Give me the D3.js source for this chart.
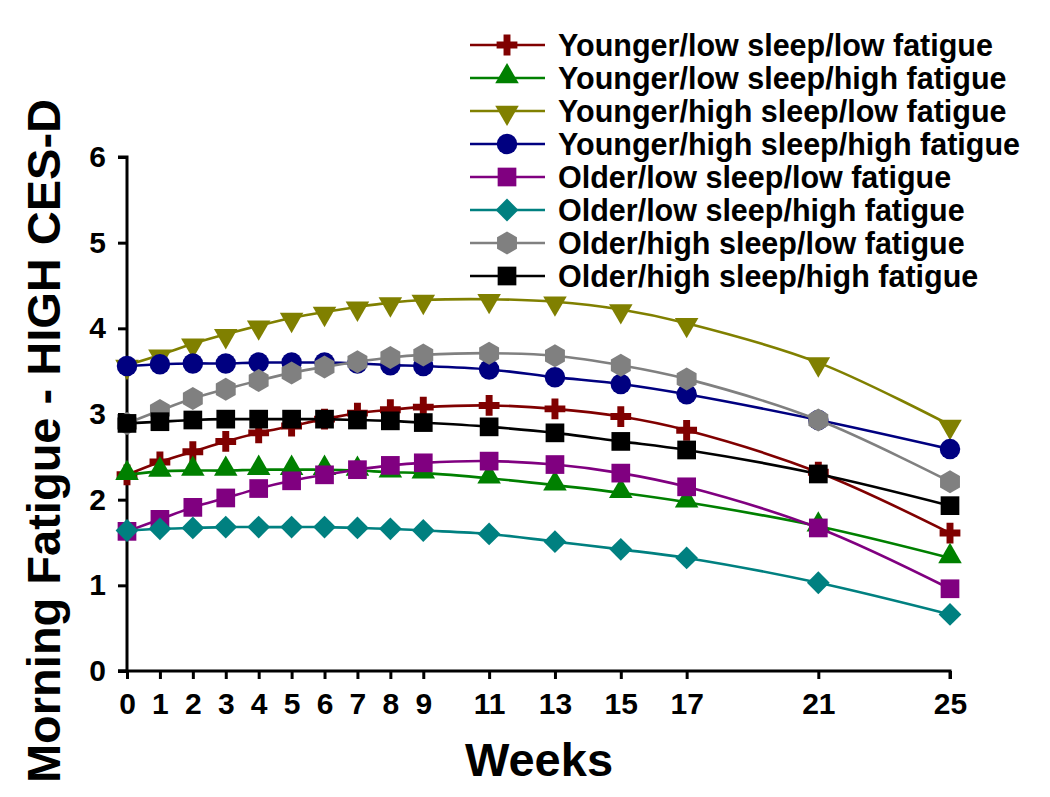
<!DOCTYPE html>
<html>
<head>
<meta charset="utf-8">
<script src="https://cdn.jsdelivr.net/npm/d3@7"></script>
<style>
  html, body { margin: 0; padding: 0; background: #fff; }
  svg { display: block; font-family: "Liberation Sans", Arial, sans-serif; font-weight: bold; }
</style>
</head>
<body>
<svg id="chart" width="1050" height="797"></svg>
<script>
// ---- data ----
const weeks = [0, 1, 2, 3, 4, 5, 6, 7, 8, 9, 11, 13, 15, 17, 21, 25];
const xTickLabels = ["0","1","2","3","4","5","6","7","8","9","11","13","15","17","21","25"];
const yTicks = [0, 1, 2, 3, 4, 5, 6];

const seriesNames = [
  "Younger/low sleep/low fatigue",
  "Younger/low sleep/high fatigue",
  "Younger/high sleep/low fatigue",
  "Younger/high sleep/high fatigue",
  "Older/low sleep/low fatigue",
  "Older/low sleep/high fatigue",
  "Older/high sleep/low fatigue",
  "Older/high sleep/high fatigue"
];
const youngLowSleepLowFat   = [2.29, 2.44, 2.56, 2.68, 2.78, 2.86, 2.94, 3.01, 3.05, 3.08, 3.10, 3.06, 2.97, 2.81, 2.32, 1.61];
const youngLowSleepHighFat  = [2.29, 2.33, 2.34, 2.34, 2.35, 2.35, 2.35, 2.34, 2.32, 2.31, 2.25, 2.17, 2.08, 1.97, 1.69, 1.32];
const youngHighSleepLowFat  = [3.57, 3.69, 3.82, 3.93, 4.03, 4.12, 4.19, 4.25, 4.30, 4.33, 4.34, 4.31, 4.22, 4.06, 3.60, 2.87];
const youngHighSleepHighFat = [3.56, 3.58, 3.59, 3.59, 3.60, 3.60, 3.60, 3.59, 3.57, 3.56, 3.52, 3.43, 3.35, 3.23, 2.93, 2.59];
const oldLowSleepLowFat     = [1.63, 1.77, 1.91, 2.02, 2.13, 2.22, 2.29, 2.35, 2.40, 2.43, 2.45, 2.41, 2.31, 2.15, 1.67, 0.96];
const oldLowSleepHighFat    = [1.64, 1.66, 1.67, 1.68, 1.68, 1.68, 1.68, 1.67, 1.66, 1.64, 1.60, 1.51, 1.42, 1.32, 1.03, 0.66];
const oldHighSleepLowFat    = [2.89, 3.04, 3.18, 3.29, 3.39, 3.48, 3.55, 3.61, 3.66, 3.69, 3.71, 3.68, 3.57, 3.41, 2.93, 2.21];
const oldHighSleepHighFat   = [2.89, 2.91, 2.93, 2.94, 2.94, 2.94, 2.94, 2.93, 2.92, 2.90, 2.85, 2.78, 2.68, 2.58, 2.30, 1.93];

const seriesValues = [youngLowSleepLowFat, youngLowSleepHighFat, youngHighSleepLowFat, youngHighSleepHighFat,
                      oldLowSleepLowFat, oldLowSleepHighFat, oldHighSleepLowFat, oldHighSleepHighFat];
const seriesColors = ["#800000", "#008000", "#808000", "#000080", "#800080", "#008080", "#808080", "#000000"];
const seriesMarkers = ["cross", "triUp", "triDown", "circle", "square", "diamond", "hexagon", "square"];

// ---- layout ----
const svg = d3.select("#chart");
const x = d3.scaleLinear().domain([0, 25]).range([127, 950]);
const y = d3.scaleLinear().domain([0, 6]).range([671, 157]);

function markerPath(type) {
  switch (type) {
    case "cross":   return d3.symbol(d3.symbolCross, 240)();
    case "triUp":   return d3.symbol(d3.symbolTriangle, 240)();
    case "triDown": return d3.symbol(d3.symbolTriangle, 240)();
    case "circle":  return d3.symbol(d3.symbolCircle, 330)();
    case "square":  return d3.symbol(d3.symbolSquare, 350)();
    case "diamond": return d3.symbol(d3.symbolSquare, 260)();
    case "hexagon": {
      const r = 11.5;
      const pts = d3.range(6).map(i => {
        const a = Math.PI / 6 + i * Math.PI / 3;
        return [r * Math.cos(a), r * Math.sin(a)];
      });
      return "M" + pts.map(p => p.join(",")).join("L") + "Z";
    }
  }
}
function markerRotate(type) {
  if (type === "triDown") return " rotate(180)";
  if (type === "diamond") return " rotate(45)";
  return "";
}
function markerOffset(type) {
  if (type === "triUp") return -1.5;
  if (type === "triDown") return 1.5;
  return 0;
}

// ---- axes ----
const yAxis = d3.axisLeft(y).tickValues(yTicks).tickSize(9).tickPadding(12).tickFormat(d3.format("d"));
const xAxis = d3.axisBottom(x).tickValues(weeks).tickSize(8).tickPadding(14).tickFormat((d, i) => xTickLabels[i]);

const gy = svg.append("g").attr("transform", "translate(127,0)").call(yAxis);
const gx = svg.append("g").attr("transform", "translate(0,671)").call(xAxis);
[gy, gx].forEach(g => {
  g.select(".domain").attr("stroke", "#000").attr("stroke-width", 3);
  g.selectAll(".tick line").attr("stroke", "#000").attr("stroke-width", 3);
  g.selectAll(".tick text").attr("fill", "#000").attr("font-size", 30).attr("font-weight", "bold")
    .attr("font-family", "'Liberation Sans', Arial, sans-serif");
});
gy.select(".domain").attr("d", "M-9,157H0V671H-9");
gx.select(".domain").attr("d", "M118,0H950V8");

// ---- series ----
const line = d3.line().x((d, i) => x(weeks[i])).y(d => y(d)).curve(d3.curveCatmullRom.alpha(0.5));
seriesValues.forEach((vals, si) => {
  const g = svg.append("g");
  g.append("path").attr("d", line(vals)).attr("fill", "none")
    .attr("stroke", seriesColors[si]).attr("stroke-width", 2.6);
  const t = seriesMarkers[si];
  g.selectAll("path.m").data(vals).join("path").attr("class", "m")
    .attr("d", markerPath(t))
    .attr("transform", (d, i) => `translate(${x(weeks[i])},${y(d) + markerOffset(t)})${markerRotate(t)}`)
    .attr("fill", seriesColors[si]);
});

// ---- legend ----
const legend = svg.append("g");
seriesNames.forEach((name, i) => {
  const ly = 45 + i * 33;
  const t = seriesMarkers[i];
  legend.append("line").attr("x1", 470).attr("x2", 545).attr("y1", ly).attr("y2", ly)
    .attr("stroke", seriesColors[i]).attr("stroke-width", 2.6);
  legend.append("path").attr("d", markerPath(t))
    .attr("transform", `translate(507,${ly + markerOffset(t)})${markerRotate(t)}`)
    .attr("fill", seriesColors[i]);
  legend.append("text").attr("x", 558).attr("y", ly).attr("dy", "0.36em")
    .attr("font-size", 30.5).attr("fill", "#000").text(name);
});

// ---- axis titles ----
svg.append("text").attr("x", 539).attr("y", 776).attr("text-anchor", "middle")
  .attr("font-size", 47).attr("fill", "#000").text("Weeks");
svg.append("text").attr("transform", "translate(60,441) rotate(-90)").attr("text-anchor", "middle")
  .attr("font-size", 47).attr("fill", "#000").text("Morning Fatigue - HIGH CES-D");
</script>
</body>
</html>
